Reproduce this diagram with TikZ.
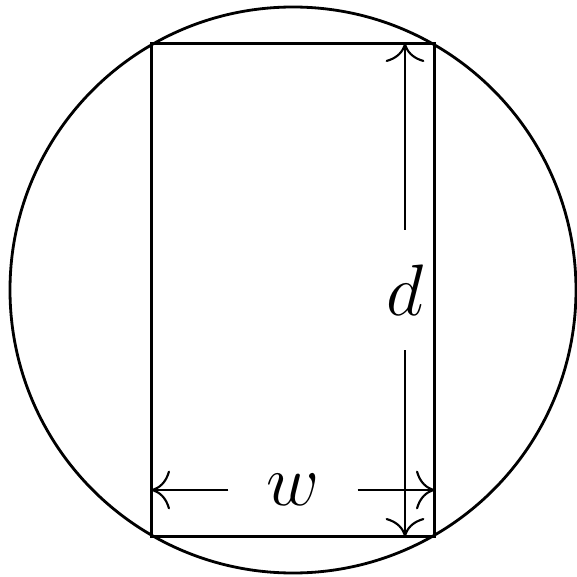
\documentclass[tikz,border=0pt]{standalone}
\usepackage{amsmath,amssymb}
\usetikzlibrary{arrows.meta}

\begin{document}
\begin{tikzpicture}[every node/.style={font=\huge}, >={To[scale=1.8]}]
	\useasboundingbox (-2.93,-2.87) rectangle (2.83,2.90);
	\draw[thick] (0,0) circle (2.83);
	\draw[thick] (-1.415,-2.465) rectangle (1.415,2.465);
	% dimension d
	\node[inner sep=0pt, minimum height=1.19cm] (dlab) at (1.12,0) {$d$};
	\coordinate (dtop) at (1.12,2.465);
	\coordinate (dbot) at (1.12,-2.465);
	\draw[->, semithick] (dlab) -- (dtop);
	\draw[->, semithick] (dlab) -- (dbot);
	% dimension w
	\node[inner sep=0pt, minimum width=1.28cm] (wlab) at (0,-2.0) {$w$};
	\coordinate (wleft) at (-1.415,-2.0);
	\coordinate (wright) at (1.415,-2.0);
	\draw[->, semithick] (wlab) -- (wleft);
	\draw[->, semithick] (wlab) -- (wright);
\end{tikzpicture}
\end{document}
